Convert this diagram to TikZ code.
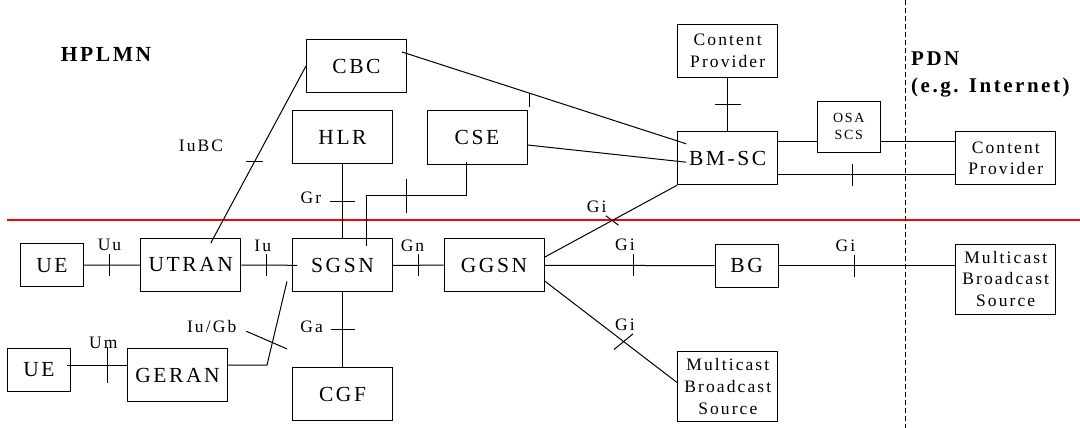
\documentclass[tikz,border=0pt]{standalone}
\usepackage{fontspec}
\setmainfont{Liberation Serif}[LetterSpace=12]

\newcommand{\bigsize}{\fontsize{21.5}{25}\selectfont}
\newcommand{\midsize}{\fontsize{17.5}{21.7}\selectfont}
\newcommand{\smallsize}{\fontsize{14}{16.7}\selectfont}
\newcommand{\htick}[2][12]{\draw ([xshift=-#1pt]#2) -- ([xshift=#1pt]#2);}
\newcommand{\vtick}[2][11]{\draw ([yshift=-#1pt]#2) -- ([yshift=#1pt]#2);}

\begin{document}
\begin{tikzpicture}[x=1pt, y=-1pt, line width=1pt,
    box/.style={draw, inner sep=0pt, minimum width=100pt, minimum height=53pt, font=\bigsize},
    smallbox/.style={box, minimum width=63pt, minimum height=43pt},
    textbox/.style={box, font=\midsize, align=center},
    lbl/.style={font=\midsize, inner sep=0pt}]
        \useasboundingbox (0,0) rectangle (1080,428);

        % network borders
        \draw[red, line width=1.5pt] (7,220) -- (1080,220);
        \draw[dash pattern=on 5pt off 3pt] (905,0) -- (905,428);

        \node[font=\bigsize\bfseries, inner sep=0pt] (hplmn) at (106,54.7) {HPLMN};
        \node[font=\fontsize{21}{26.5}\selectfont\bfseries, align=left, anchor=north west, inner sep=0pt] (pdn) at (910.7,51.7) {PDN\\(e.g. Internet)};

        % boxes
        \node[box] (cbc) at (356.5,66) {CBC};
        \node[box] (hlr) at (342.5,137) {HLR};
        \node[box] (cse) at (477,137.5) {CSE};
        \node[textbox] (cp1) at (727.7,50.7) {Content\\Provider};
        \node[box] (bmsc) at (727.7,158.2) {BM-SC};
        \node[box, minimum width=63pt, minimum height=51pt, font=\smallsize, align=center] (osa) at (848.8,126.7) {OSA\\SCS};
        \node[textbox] (cp2) at (1005.8,158.2) {Content\\Provider};
        \node[smallbox] (ue1) at (52,265.3) {UE};
        \node[box] (utran) at (190.8,265) {UTRAN};
        \node[box] (sgsn) at (342.5,265.3) {SGSN};
        \node[box] (ggsn) at (494,265.2) {GGSN};
        \node[smallbox] (bg) at (746.7,265.7) {BG};
        \node[textbox, minimum height=70pt] (mbs2) at (1005.7,279) {Multicast\\Broadcast\\Source};
        \node[smallbox] (ue2) at (39,369.7) {UE};
        \node[box] (geran) at (177.5,375) {GERAN};
        \node[box] (cgf) at (342.5,394.3) {CGF};
        \node[textbox, minimum height=70pt] (mbs1) at (727.8,386.7) {Multicast\\Broadcast\\Source};

        % interface labels
        \node[lbl] (iubc) at (201,145.8) {IuBC};
        \node[lbl] (gr) at (311,197.5) {Gr};
        \node[lbl] (uu) at (109.5,245) {Uu};
        \node[lbl] (iu) at (262.8,245.8) {Iu};
        \node[lbl] (gn) at (412.5,246) {Gn};
        \node[lbl] (ga) at (311.6,326.7) {Ga};
        \node[lbl] (iugb) at (211.7,326.7) {Iu/Gb};
        \node[lbl] (um) at (103.3,343) {Um};
        \node[lbl] (gi1) at (596.7,207) {Gi};
        \node[lbl] (gi2) at (625,245) {Gi};
        \node[lbl] (gi3) at (625,325) {Gi};
        \node[lbl] (gi4) at (845.4,246) {Gi};

        % links above the line
        \draw ([xshift=-5pt,yshift=-13pt]cbc.north east) -- coordinate[pos=0.447] (t1) ([xshift=9pt,yshift=-12.6pt]bmsc.north west);
        \draw (t1) -- ([yshift=-14pt]t1);
        \draw ([yshift=-7.5pt]cse.east) -- ([xshift=9pt,yshift=-4pt]bmsc.west);
        \draw (cbc.west) -- coordinate[pos=0.54] (t2) ([xshift=20pt,yshift=-5pt]utran.north);
        \htick[8.5]{t2}
        \draw (cp1) -- coordinate (t3) (bmsc);
        \htick[12.8]{t3}
        \coordinate (b1) at ([yshift=-10.6pt]bmsc.north east);
        \coordinate (c1) at ([yshift=-10.6pt]cp2.north west);
        \draw (b1) -- (b1 -| osa.west);
        \draw (c1 -| osa.east) -- (c1);
        \draw ([yshift=10.7pt]bmsc.south east) -- coordinate[pos=0.42] (t4) ([yshift=10.7pt]cp2.south west);
        \vtick{t4}
        \draw (hlr) -- coordinate (t5) (sgsn);
        \htick[12.5]{t5}
        \draw ([xshift=-10.3pt,yshift=2.6pt]cse.south) -- ++(0,34) -| ([xshift=24.2pt,yshift=-8pt]sgsn.north);
        \coordinate (t6) at ([xshift=-70.3pt,yshift=-31.4pt]cse.south);
        \vtick[16.7]{t6}

        % links below the line
        \draw (ue1) -- coordinate[pos=0.446] (t7) (utran);
        \vtick{t7}
        \draw (utran.east) -- coordinate[pos=0.455] (t8) ([xshift=5pt]sgsn.west);
        \vtick{t8}
        \draw (sgsn) -- coordinate (t9) (ggsn);
        \vtick{t9}
        \draw (sgsn) -- coordinate (t10) (cgf);
        \htick{t10}
        \draw ([xshift=-4pt,yshift=4.7pt]ue2.east) -- coordinate[pos=0.67] (t11) ([yshift=10pt]geran.west);
        \vtick[18]{t11}
        \draw ([yshift=10pt]geran.east) -- ++(39,0) -- ([xshift=-5pt,yshift=11pt]sgsn.south west);
        \draw ([xshift=-45.6pt,yshift=-39pt]sgsn.south west) -- ([xshift=-5pt,yshift=-56.6pt]sgsn.south west);
        \draw ([yshift=8pt]ggsn.east) -- coordinate[pos=0.51] (t12) (bmsc.south west);
        \draw ([shift={(-6.3,-4.7)}]t12) -- ([shift={(6.3,4.7)}]t12);
        \draw (ggsn) -- coordinate[pos=0.521] (t13) (bg);
        \vtick{t13}
        \draw (bg.east) -- coordinate[pos=0.427] (t14) (bg.east -| mbs2.west);
        \vtick{t14}
        \draw ([yshift=-15.7pt]ggsn.east) -- coordinate[pos=0.596] (t15) ([yshift=4pt]mbs1.west);
        \draw ([shift={(-9.5,7.85)}]t15) -- ([shift={(9.5,-7.85)}]t15);
\end{tikzpicture}
\end{document}
